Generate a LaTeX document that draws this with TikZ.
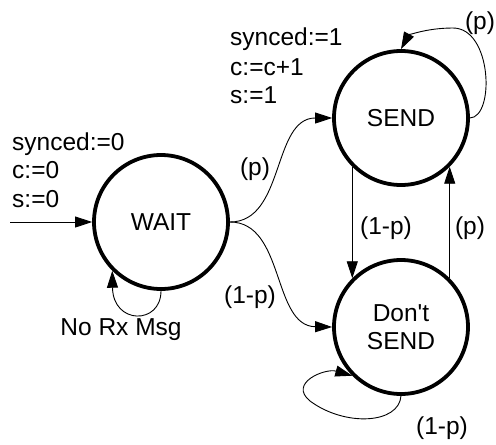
\documentclass[tikz,border=0pt]{standalone}
\usepackage{fontspec}
\setmainfont{Liberation Sans}
\usetikzlibrary{arrows.meta}
\begin{document}
\begin{tikzpicture}[x=1pt,y=-1pt,
  every node/.style={font=\fontsize{24.5}{28}\selectfont, inner sep=0pt},
  state/.style={circle, draw, line width=3.8pt, minimum size=134pt, align=center},
  lbl/.style={anchor=base},
  act/.style={anchor=base west},
  edge/.style={line width=0.9pt, -{Triangle[length=17pt,width=11pt]}}]
  \useasboundingbox (0,0) rectangle (496,445);

  % states
  \node[state] (wait) at (161,222) {WAIT};
  \node[state] (send) at (401,118) {SEND};
  \node[state] (dont) at (401,327) {Don\textquotesingle t\\SEND};

  % entry actions
  \node[act] (w1) at (12,150) {synced:=0};
  \node[act] (w2) at (12,178) {c:=0};
  \node[act] (w3) at (12,207) {s:=0};
  \node[act] (s1) at (230,45) {synced:=1};
  \node[act] (s2) at (230,75) {c:=c+1};
  \node[act] (s3) at (230,103) {s:=1};

  % initial transition
  \coordinate (init) at (10,222);
  \draw[edge] (init) -- (wait.west);

  % WAIT transitions
  \draw[edge] (wait.east) .. controls (285,222) and (272,118) .. (send.west);
  \draw[edge] (wait.east) .. controls (285,222) and (272,326) .. (dont.west);
  \draw[edge] (wait.south) .. controls (161,325) and (113,325) .. (wait.south west);

  % SEND / Don't SEND transitions
  \draw[edge] (send.south west) -- (send.south west |- dont.north west);
  \draw[edge] (dont.north east) -- (dont.north east |- send.south east);
  \draw[edge] (send.east) .. controls (495,117) and (492,28) .. (453,28)
                          .. controls (425,28) and (408,36) .. (send.north);
  \draw[edge] (dont.south) .. controls (399,424) and (345,427) .. (310,401)
                           .. controls (288,383) and (325,368) .. (dont.south west);

  % transition labels
  \node[lbl] (lp1) at (255,175) {(p)};
  \node[lbl] (lq1) at (250,303) {(1-p)};
  \node[lbl] (lq2) at (386,234) {(1-p)};
  \node[lbl] (lp2) at (470,234) {(p)};
  \node[lbl] (lp3) at (480,29) {(p)};
  \node[lbl] (lq3) at (442,434) {(1-p)};
  \node[lbl] (nrx) at (121,335) {No Rx Msg};
\end{tikzpicture}
\end{document}
